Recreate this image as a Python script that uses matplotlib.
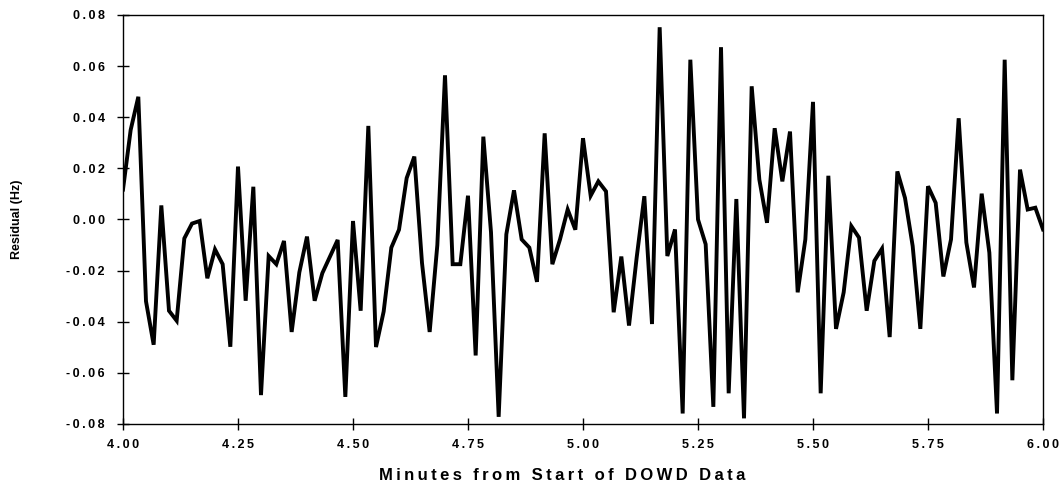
import matplotlib
matplotlib.use("Agg")
import matplotlib.pyplot as plt
import matplotlib.ticker as ticker
import numpy as np

# residuals sampled once per second, 4.00 to 6.00 minutes
t_start = 4.0
residual_hz = [
    0.0117, 0.035, 0.048, -0.032, -0.049, 0.0055, -0.0357, -0.0396, -0.0074, -0.0016,
    -0.0006, -0.023, -0.0117, -0.0175, -0.0498, 0.0207, -0.0318, 0.0128, -0.0687, -0.0143,
    -0.0175, -0.0084, -0.044, -0.0207, -0.0067, -0.0318, -0.021, -0.0145, -0.008, -0.0694,
    -0.0006, -0.0357, 0.0366, -0.0499, -0.036, -0.011, -0.004, 0.0162, 0.0246, -0.017,
    -0.044, -0.010, 0.0564, -0.0175, -0.0175, 0.0093, -0.0532, 0.0324, -0.005, -0.0772,
    -0.0058, 0.0114, -0.0078, -0.011, -0.0244, 0.0337, -0.0175, -0.0078, 0.0039, -0.004,
    0.0318, 0.0093, 0.0149, 0.011, -0.0363, -0.0145, -0.0415, -0.0149, 0.0091, -0.0409,
    0.0752, -0.0143, -0.0039, -0.0759, 0.0625, 0.0, -0.0097, -0.0733, 0.0674, -0.068,
    0.008, -0.0778, 0.0521, 0.0156, -0.0013, 0.0357, 0.0149, 0.0344, -0.0285, -0.0078,
    0.046, -0.068, 0.0171, -0.0428, -0.0285, -0.0026, -0.0071, -0.0357, -0.0162, -0.0114,
    -0.046, 0.0188, 0.0084, -0.0104, -0.0428, 0.013, 0.0065, -0.0223, -0.0078, 0.0396,
    -0.009, -0.0266, 0.0101, -0.013, -0.0759, 0.0625, -0.0629, 0.0195, 0.0039, 0.0046,
    -0.0039,
]
minutes = t_start + np.arange(len(residual_hz)) / 60.0

x_ticks = [4.00, 4.25, 4.50, 4.75, 5.00, 5.25, 5.50, 5.75, 6.00]
y_ticks = [-0.08, -0.06, -0.04, -0.02, 0.00, 0.02, 0.04, 0.06, 0.08]
x_title = "Minutes from Start of DOWD Data"
y_title = "Residual (Hz)"

THIN = "\u2009"


def spaced(s):
    # old typewriter-ish letter spacing seen in the scan
    return THIN.join(s)


plt.rcParams.update({
    "font.family": ["Liberation Sans", "DejaVu Sans"],
    "axes.unicode_minus": False,
})

fig = plt.figure(figsize=(10.63, 4.83), dpi=100)
ax = fig.add_axes([0.1157, 0.1222, 0.8655, 0.8468])

ax.plot(minutes, residual_hz, color="black", linewidth=2.8, solid_joinstyle="miter")

ax.set_xlim(4.0, 6.0)
ax.set_ylim(-0.08, 0.08)
ax.set_xticks(x_ticks)
ax.set_yticks(y_ticks)
ax.xaxis.set_major_formatter(ticker.FuncFormatter(lambda v, _: spaced(f"{v:.2f}")))
ax.yaxis.set_major_formatter(ticker.FuncFormatter(lambda v, _: spaced(f"{v:.2f}")))
ax.tick_params(direction="inout", length=8, width=1.0, labelsize=9)
ax.tick_params(axis="y", pad=9)
ax.tick_params(axis="x", pad=7)
for lab in ax.get_xticklabels() + ax.get_yticklabels():
    lab.set_fontweight("bold")
for sp in ax.spines.values():
    sp.set_linewidth(1.0)

ax.set_xlabel(spaced(x_title), fontsize=12, fontweight="bold")
ax.xaxis.set_label_coords(0.477, -0.125, transform=ax.transAxes)
ax.xaxis.label.set_va("center")
ax.set_ylabel(y_title, fontsize=9, fontweight="bold")
ax.yaxis.set_label_coords(-0.115, 0.5, transform=ax.transAxes)
ax.yaxis.label.set_va("center")

fig.savefig("out.png", dpi=100, facecolor="white")
